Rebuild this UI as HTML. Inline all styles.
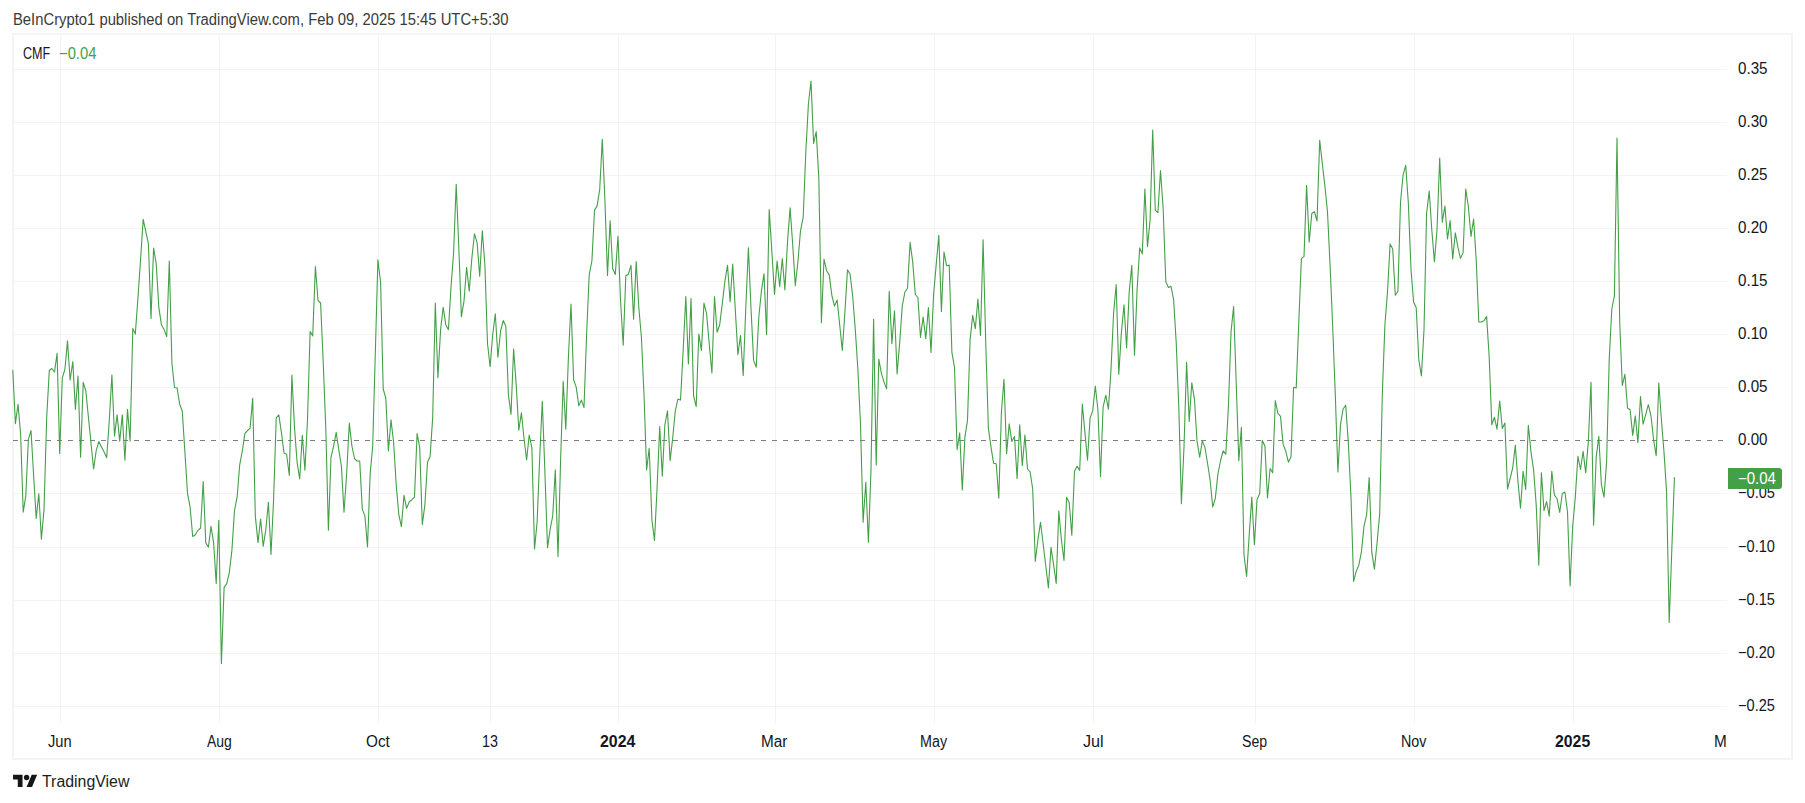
<!DOCTYPE html>
<html lang="en">
<head>
<meta charset="utf-8">
<title>CMF chart</title>
<style>
html,body{margin:0;padding:0;background:#fff;}
body{width:1805px;height:803px;position:relative;overflow:hidden;font-family:"Liberation Sans",sans-serif;color:#131722;}
#hdr{position:absolute;left:13.33px;top:10.8px;font-size:15.8px;line-height:18px;white-space:nowrap;color:#3a3a3a;transform:scaleX(0.9371);transform-origin:0 0;}
#frame{position:absolute;left:12px;top:33px;width:1777px;height:723px;border:2px solid #f4f4f4;box-sizing:content-box;}
.hg{position:absolute;left:14px;width:1713px;height:1px;background:rgba(40,50,50,0.055);}
.vg{position:absolute;top:35px;width:1px;height:689px;background:rgba(40,50,50,0.055);}
#zero{position:absolute;left:13px;top:440px;width:1714px;height:1px;background:repeating-linear-gradient(to right,#7c7f8a 0,#7c7f8a 5px,transparent 5px,transparent 11px);}
#legend{position:absolute;left:23px;top:44.5px;font-size:15.8px;line-height:18px;white-space:nowrap;}
#legend .t{position:absolute;left:0;top:0;transform:scaleX(0.7964);transform-origin:0 0;}
#legend .v{color:#43a047;position:absolute;left:58.94px;top:0;font-size:15.8px;transform:scaleX(0.9369);transform-origin:0 0;margin-left:-23px;}
.tl{position:absolute;top:733.5px;font-size:15.8px;line-height:16px;white-space:nowrap;transform-origin:0 0;}
.tl.b{font-weight:bold;}
.pl{position:absolute;font-size:15.8px;line-height:16px;margin-top:-8.5px;white-space:nowrap;transform-origin:0 0;}
#badge{position:absolute;left:1728px;top:468px;width:54px;height:21px;background:#43a047;border-radius:0 3px 3px 0;color:#fff;font-size:15.8px;line-height:16px;}
#badge span{position:absolute;left:10.23px;top:2.5px;transform:scaleX(0.9498);transform-origin:0 0;white-space:nowrap;}
#brand{position:absolute;left:42.3px;top:772.5px;font-size:15.8px;line-height:18px;white-space:nowrap;color:#1c1c1c;transform:scaleX(1.0055);transform-origin:0 0;}
svg{position:absolute;left:0;top:0;}
</style>
</head>
<body>
<div id="hdr">BeInCrypto1 published on TradingView.com, Feb 09, 2025 15:45 UTC+5:30</div>
<div id="frame"></div>
<div class="hg" style="top:69px"></div><div class="hg" style="top:122px"></div><div class="hg" style="top:175px"></div><div class="hg" style="top:228px"></div><div class="hg" style="top:281px"></div><div class="hg" style="top:334px"></div><div class="hg" style="top:387px"></div><div class="hg" style="top:493px"></div><div class="hg" style="top:547px"></div><div class="hg" style="top:600px"></div><div class="hg" style="top:653px"></div><div class="hg" style="top:706px"></div><div class="vg" style="left:60px"></div><div class="vg" style="left:219px"></div><div class="vg" style="left:378px"></div><div class="vg" style="left:490px"></div><div class="vg" style="left:618px"></div><div class="vg" style="left:775px"></div><div class="vg" style="left:934px"></div><div class="vg" style="left:1093px"></div><div class="vg" style="left:1255px"></div><div class="vg" style="left:1414px"></div><div class="vg" style="left:1573px"></div>
<div id="zero"></div>
<svg id="chart" width="1805" height="803" viewBox="0 0 1805 803">
<polyline fill="none" stroke="#43a047" stroke-width="1.1" stroke-linejoin="round" stroke-linecap="round" points="12.8,370.3 15.4,423.6 18,404.4 20.6,433.6 23.2,512.1 25.8,495.9 28.4,439.3 31,430.6 33.6,474.7 36.2,518.4 38.8,493.7 41.4,539.1 44,509.6 46.7,417.4 49.3,370.5 51.9,368.5 54.5,372 57.1,353.3 59.7,453.5 62.3,377.8 64.9,369.5 67.5,340.9 70.1,380 72.8,361.6 75.4,409.4 78,376 80.6,457.3 83.2,382.3 85.8,391 93.6,469 96.2,450.6 98.8,441.6 101.4,446.8 104,451.8 106.7,457.8 109.3,420 111.9,375 114.5,436.1 117.1,414.9 119.7,441.1 122.3,414.9 124.9,460.3 127.5,409.4 130.1,441.1 132.8,328.4 135.3,334.1 138,297 140.6,259 143.2,219.4 145.8,231.7 148.4,243.6 151,318.4 153.6,248.1 156.2,263.6 158.8,307.2 161.4,324.7 164.1,329.6 166.7,336.6 169.3,261.1 171.9,363.3 174.5,387.5 177.1,388 179.7,404.2 182.3,411.2 184.9,452.3 187.5,493.4 190.1,507.2 192.7,536.5 195.3,534.7 198,530.3 200.6,528 203.2,481.5 205.8,543 208.4,547.1 211,526.4 213.6,542.6 216.2,583.4 218.8,520.2 221.4,663.6 224.1,587.4 226.7,583.6 229.3,572.8 231.9,550.4 234.5,510.5 237.1,497.2 239.7,464.8 242.3,451 244.9,433.6 247.5,430.6 250.1,428.1 252.7,398.2 255.3,515.9 258,542.6 260.6,519.1 263.2,546.3 265.8,529.6 268.4,502.2 271,554.5 273.6,499.7 276.2,417.9 278.8,414.9 281.4,432.4 284,453 286.6,454.3 289.3,475.5 291.9,375 294.5,427.4 297.1,462.3 299.7,479 302.3,435.3 304.9,470.3 307.5,419.9 310.1,331.6 312.7,335.9 315.4,266.6 318,300.5 320.6,303 323.2,362 325.8,428.6 328.4,530.3 331,457.3 333.6,446.1 336.2,432.4 338.8,449.8 341.4,466 344,512.1 346.6,474.7 349.3,423.1 351.9,446 354.5,458.5 357.1,461 359.7,461 362.3,509.1 364.9,515.9 367.5,547 370.1,474.7 372.7,446 375.4,350 377.9,259.8 380.6,282.3 383.2,389 385.8,398 388.4,451 391,419.9 393.6,442.3 396.2,484.7 398.8,514.6 401.4,526.6 404,495.4 406.6,508.4 409.3,501.7 411.9,499.7 414.5,497.2 417.1,433.6 419.7,447.3 422.3,524.6 424.9,504.7 427.5,462.3 430.1,456.5 432.7,417.4 435.3,303 437.9,377.8 440.6,329.6 443.2,307.3 445.8,324.8 448.4,329.8 451,287.4 453.6,252.7 456.2,184.2 458.8,247 461.4,316.8 464,301.1 466.6,267.3 469.2,291.1 471.9,257.5 474.5,233.8 477.1,242.8 479.7,276.2 482.3,230.8 484.9,265 487.5,343.5 490.1,366.7 492.7,334.8 495.3,313.8 497.9,357.2 500.6,331 503.2,320.6 505.8,326 508.4,394.6 511,414.5 513.6,349 516.2,384.6 518.8,430.2 521.4,412.8 524,438 526.6,459.9 529.2,435 531.9,447.9 534.5,549.1 537.1,522.2 539.7,457.4 542.3,401.3 544.9,472 547.5,547.6 550.1,529.7 552.7,516 555.3,469.9 558,556.6 560.6,460 563.2,381.4 565.8,429.3 568.4,357.2 571,304.1 573.6,379.6 576.2,387.1 578.8,405.8 581.4,400.1 584,407.6 586.6,334.8 589.2,274.9 591.9,261 594.5,210.4 597.1,205.9 599.7,189.7 602.3,139.3 604.9,200 607.5,275.4 610.1,220.8 612.7,268.7 615.3,274.4 618,236.3 620.5,300 623.2,345.2 625.8,275.7 628.4,274.2 631,265.3 633.6,319.1 636.2,261.6 638.8,307.3 641.4,337.3 644,394.6 646.6,469.9 649.2,448.2 651.9,519.7 654.5,540.4 657.1,487.3 659.7,426.6 662.3,476.1 664.9,424.5 667.5,410.8 670.1,460.6 672.7,438 675.3,410.8 677.9,399.1 680.5,400.1 683.2,349.7 685.8,296.6 688.4,363.9 691,298.6 693.6,395.8 696.2,406.6 698.8,334 701.4,350.5 704,303.1 706.6,313.6 709.2,343.5 711.9,372.9 714.5,296.6 717.1,332.3 719.7,324.8 722.3,303.6 724.9,281.2 727.5,265.3 730.1,301.6 732.7,264 735.3,309.8 737.9,354.7 740.5,335.5 743.2,375.4 745.8,307.3 748.4,247.8 751,308.6 753.6,360.4 756.2,367.2 758.8,317.3 761.4,291.1 764,273.7 766.6,334.8 769.2,209.6 771.9,252 774.5,294.4 777.1,261 779.7,286.6 782.3,258.5 784.9,289.9 787.5,242 790.1,207.9 792.7,244.5 795.3,285.7 797.9,262 800.5,230.8 803.2,217.1 805.8,152.3 808.4,104.2 811,81 813.6,143.5 816.2,131.6 818.8,177.2 821.4,322.8 824,259 826.6,270.7 829.2,274.9 831.9,295.6 834.5,306.1 837.1,299.9 839.7,324.8 842.3,350.5 844.9,312.3 847.5,269.9 850.1,274.2 852.7,296.1 855.3,329.8 857.9,369.7 860.5,424 863.1,522.2 865.8,482.3 868.4,542.2 871,469.9 873.6,319.3 876.2,464.9 878.8,359.2 881.4,373.4 884,382.1 886.6,388.9 889.2,291.2 891.9,343.6 894.5,310.7 897.1,374 899.7,342.4 902.3,305.6 904.9,292 907.5,288.3 910.1,242.2 912.7,262.1 915.3,294.5 917.9,297.5 920.5,337.4 923.1,317 925.8,338.6 928.4,307.5 931,352.4 933.6,294.5 936.2,264.6 938.8,235.4 941.4,311.6 944,252.1 946.6,265.8 949.2,265.1 951.9,352.4 954.5,367.3 957.1,449.6 959.7,432.9 962.3,490 964.9,437.1 967.5,420.4 970.1,339.9 972.7,315.4 975.3,328.7 977.9,299 980.5,335.4 983.1,239.7 985.8,345 988.4,428.4 991,447.1 993.6,463.3 996.2,463.8 998.8,498.1 1001.4,412.2 1004,379.3 1006.6,453.8 1009.2,423.9 1011.8,441.4 1014.5,436.6 1017.1,478.5 1019.7,424.7 1022.3,465.8 1024.9,435.1 1027.5,469 1030.1,471.8 1032.7,489 1035.3,561.5 1037.9,539.8 1040.5,522.3 1043.2,544.3 1045.8,566 1048.4,587.9 1051,547.3 1053.6,564.7 1056.2,583.4 1058.8,511.1 1061.4,539.8 1064,560.5 1066.6,497.2 1069.2,502.4 1071.8,535.3 1074.5,471.2 1077.1,466.2 1079.7,470.4 1082.3,404 1084.9,432.1 1087.5,460.3 1090.1,417.9 1092.7,410.9 1095.3,386 1097.9,409.7 1100.5,476.6 1103.1,407.2 1105.8,395.2 1108.4,409.2 1111,369.8 1113.6,313 1116.2,284.6 1118.8,374.3 1121.4,332.4 1124,304.7 1126.6,347.9 1129.2,292 1131.8,265.4 1134.5,355.3 1137.1,289.5 1139.7,247.9 1142.3,253.9 1144.9,189.1 1147.5,246.7 1150.1,219.7 1152.7,130 1155.3,210.3 1157.9,212.7 1160.5,170.6 1163.1,207.3 1165.8,281.6 1168.4,287.5 1171,286.3 1173.6,299.5 1176.2,342.4 1178.8,407 1181.4,503.6 1184,447 1186.6,362.3 1189.2,421.4 1191.8,382.8 1194.5,399.7 1197,440.9 1199.7,457.1 1202.3,440.9 1204.9,447.1 1207.5,463 1210.1,480 1212.7,506.9 1215.3,498.6 1217.9,474 1220.5,461 1223.1,450.8 1225.8,454.1 1228.4,407.2 1231,332.4 1233.6,306.5 1236.2,382.3 1238.8,460.8 1241.4,427.2 1244,554.7 1246.6,576.4 1249.2,534.8 1251.8,497 1254.4,544.8 1257,499.9 1259.7,493.5 1262.3,440.4 1264.9,445.9 1267.5,498 1270.1,468.5 1272.7,472.8 1275.3,400.5 1277.9,413.4 1280.5,416.4 1283.1,444.1 1285.8,451.3 1288.4,462.1 1291,457.1 1293.6,387.3 1296.2,388 1298.8,322 1301.4,258.4 1304,256.6 1306.6,185.3 1309.2,242.2 1311.8,213.5 1314.4,211.7 1317,221 1319.7,140.4 1322.3,163.5 1324.9,186 1327.5,212 1330.1,266 1332.7,327 1335.3,394.7 1337.9,472 1340.5,424.7 1343.1,409 1345.7,405.2 1348.3,442.1 1351,497.4 1353.6,581.4 1356.2,571.4 1358.8,565.2 1361.4,552.2 1364,526.1 1366.6,514.8 1369.2,477.5 1371.8,552.2 1374.4,569.2 1377,543.5 1379.7,513.6 1382.3,394.7 1384.9,325 1387.5,292 1390.1,243.9 1392.7,248.9 1395.3,295.3 1397.9,291.5 1400.5,202.3 1403.1,174.8 1405.7,165.4 1408.3,202.3 1411,269.6 1413.6,302 1416.2,307.8 1418.8,359.8 1421.4,376 1424,329.9 1426.6,213.5 1429.2,191.1 1431.8,229.7 1434.4,261.6 1437,229.7 1439.7,158.1 1442.3,222.2 1444.9,206 1447.5,238.9 1450.1,220.5 1452.7,258.9 1455.3,232.9 1457.9,247.2 1460.5,258.4 1463.1,252.6 1465.7,189.1 1468.3,206 1471,236.4 1473.6,219 1476.2,259.6 1478.8,322 1481.4,322 1484,320.7 1486.6,316.4 1489.2,357.3 1491.8,424.7 1494.4,417.2 1497,429.1 1499.7,401 1502.3,428.4 1504.9,422.9 1507.5,489 1510.1,478.5 1512.7,468 1515.3,445.4 1517.9,481 1520.5,508.1 1523.1,471.3 1525.7,489.4 1528.3,425.2 1531,452.1 1533.6,469.8 1536.2,504.9 1538.8,565.2 1541.4,472.9 1544,510.6 1546.6,501.6 1549.2,516.1 1551.8,471.2 1554.4,495.2 1557,498.5 1559.7,512.4 1562.3,493.5 1564.9,492 1567.5,512 1570.1,585.9 1572.7,526 1575.3,497.4 1577.9,456.3 1580.5,469.5 1583.1,451.3 1585.7,472.9 1588.3,442.1 1591,382.3 1593.6,525.3 1596.2,457.1 1598.8,436.4 1601.4,484.7 1604,497.2 1606.6,462.1 1609.2,359.8 1611.8,309 1614.4,295.8 1617,138 1619.7,322 1622.3,385.5 1624.9,374.3 1627.5,408 1630.1,409.7 1632.7,435.4 1635.3,415.9 1637.9,442.6 1640.5,396.5 1643.1,424.2 1645.7,414.7 1648.3,404.7 1651,416 1653.6,439.6 1656.2,455.8 1658.8,383 1661.4,419.7 1664,452.1 1666.6,492.4 1669.2,622.5 1671.8,550 1674.4,477.5"/>
</svg>
<div id="legend"><span class="t">CMF</span><span class="v">−0.04</span></div>
<div id="taxisclip" style="position:absolute;left:0;top:0;width:1727px;height:760px;overflow:hidden;"><span class="tl" style="left:48px;transform:scaleX(0.9297)">Jun</span><span class="tl" style="left:206.75px;transform:scaleX(0.8853)">Aug</span><span class="tl" style="left:365.91px;transform:scaleX(0.9676)">Oct</span><span class="tl" style="left:481.87px;transform:scaleX(0.9072)">13</span><span class="tl b" style="left:600.13px;transform:scaleX(1.0059)">2024</span><span class="tl" style="left:760.73px;transform:scaleX(0.9688)">Mar</span><span class="tl" style="left:920.13px;transform:scaleX(0.9063)">May</span><span class="tl" style="left:1082.6px;transform:scaleX(1.0249)">Jul</span><span class="tl" style="left:1242.32px;transform:scaleX(0.894)">Sep</span><span class="tl" style="left:1400.94px;transform:scaleX(0.9043)">Nov</span><span class="tl b" style="left:1555.32px;transform:scaleX(1.0012)">2025</span><span class="tl" style="left:1714.13px;transform:scaleX(0.9688)">Mar</span></div>
<span class="pl" style="top:69px;left:1737.7px;transform:scaleX(0.9595)">0.35</span><span class="pl" style="top:122px;left:1737.7px;transform:scaleX(0.9595)">0.30</span><span class="pl" style="top:175px;left:1737.7px;transform:scaleX(0.9595)">0.25</span><span class="pl" style="top:228px;left:1737.7px;transform:scaleX(0.9595)">0.20</span><span class="pl" style="top:281px;left:1737.7px;transform:scaleX(0.9595)">0.15</span><span class="pl" style="top:334px;left:1737.7px;transform:scaleX(0.9595)">0.10</span><span class="pl" style="top:387px;left:1737.7px;transform:scaleX(0.9595)">0.05</span><span class="pl" style="top:440px;left:1737.7px;transform:scaleX(0.9595)">0.00</span><span class="pl" style="top:493px;left:1738.3px;transform:scaleX(0.9231)">−0.05</span><span class="pl" style="top:547px;left:1738.3px;transform:scaleX(0.9231)">−0.10</span><span class="pl" style="top:600px;left:1738.3px;transform:scaleX(0.9231)">−0.15</span><span class="pl" style="top:653px;left:1738.3px;transform:scaleX(0.9231)">−0.20</span><span class="pl" style="top:706px;left:1738.3px;transform:scaleX(0.9231)">−0.25</span>
<div id="badge"><span>−0.04</span></div>
<svg id="logo" width="25" height="19" viewBox="0 0 36 28" style="left:13px;top:772px;width:24.5px;height:19px"><path fill="#161616" d="M14 22H7V11H0V4h14v18zM28 22h-8l7.5-18h8L28 22z"/><circle fill="#161616" cx="20" cy="8" r="4"/></svg>
<div id="brand">TradingView</div>
</body>
</html>
